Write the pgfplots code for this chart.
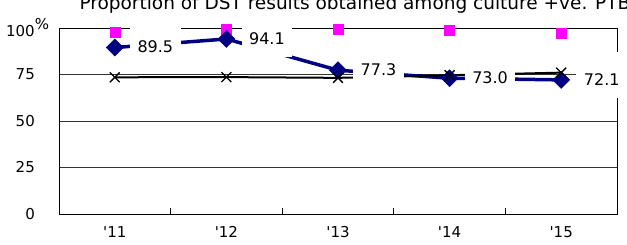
\documentclass[border=0pt]{standalone}
\usepackage{fontspec}
\setmainfont{DejaVu Sans}
\usepackage{pgfplots}
\pgfplotsset{compat=1.18}
\definecolor{navyc}{RGB}{0,0,128}
\definecolor{magc}{RGB}{255,0,255}
\pgfplotstableread{
x y
0 97.8
1 99.2
2 99.6
3 98.8
4 97.2
}\magdata
\pgfplotstableread{
x y lab
0 89.5 89.5
1 94.1 94.1
2 77.3 77.3
3 73.0 73.0
4 72.1 72.1
}\navydata
\pgfplotstableread{
x y
0 73.5
1 73.6
2 73.2
3 74.6
4 76.0
}\xdata
\begin{document}
\begin{tikzpicture}[font=\fontsize{15pt}{18pt}\selectfont]
\begin{axis}[name=ax, set layers, scale only axis,
  width=558pt, height=186pt,
  xmin=-0.5, xmax=4.5, ymin=0, ymax=100,
  xtick={0,1,2,3,4},
  xticklabels={\textquotesingle 11,\textquotesingle 12,\textquotesingle 13,\textquotesingle 14,\textquotesingle 15},
  ytick={0,25,50,75,100},
  yticklabels={0,25,50,75,{100\rlap{\raisebox{7pt}{\%}}}},
  major tick length=0pt,
  tick pos=left,
  extra x ticks={0.5,1.5,2.5,3.5},
  extra x tick labels={},
  extra x tick style={major tick length=6pt, tick align=inside, major tick style={black, line width=0.8pt}},
  ymajorgrids, grid style={black!80, line width=0.6pt},
  axis line style={black, line width=0.8pt},
  tick label style={font=\fontsize{15pt}{18pt}\selectfont},
  yticklabel style={inner xsep=0pt, xshift=-24pt},
  xticklabel style={inner ysep=0pt, yshift=-12pt},
  clip=false,
]
\addplot[only marks, mark=square*, mark size=5pt, mark options={draw=magc, fill=magc}] table[x=x,y=y] {\magdata};
\addplot[navyc, line width=3.5pt, mark=square*, mark size=6pt, mark options={rotate=45, line width=0.5pt, draw=navyc, fill=navyc}] table[x=x,y=y] {\navydata};
\addplot[black, line width=2pt, mark=x, mark size=7pt, mark options={line width=1.3pt, black}] table[x=x,y=y] {\xdata};
\addplot[draw=none, no marks, on layer=axis foreground,
  nodes near coords, point meta=explicit symbolic,
  every node near coord/.append style={anchor=west, text=black, fill=white, draw=none, inner xsep=7.5pt, inner ysep=0pt,
    text height=33.25pt, text depth=12.75pt, xshift=15pt, yshift=5pt, font=\fontsize{16pt}{19pt}\selectfont}]
  table[x=x,y=y,meta=lab] {\navydata};
\end{axis}
\node[anchor=base west, font=\fontsize{18.5pt}{22pt}\selectfont] at ([xshift=17pt, yshift=18pt]ax.north west) {Proportion of DST results obtained among culture +ve. PTB};
\pgfresetboundingbox
\useasboundingbox ([xshift=-59pt,yshift=-30pt]ax.south west) rectangle ++(627pt,244pt);
\end{tikzpicture}
\end{document}
